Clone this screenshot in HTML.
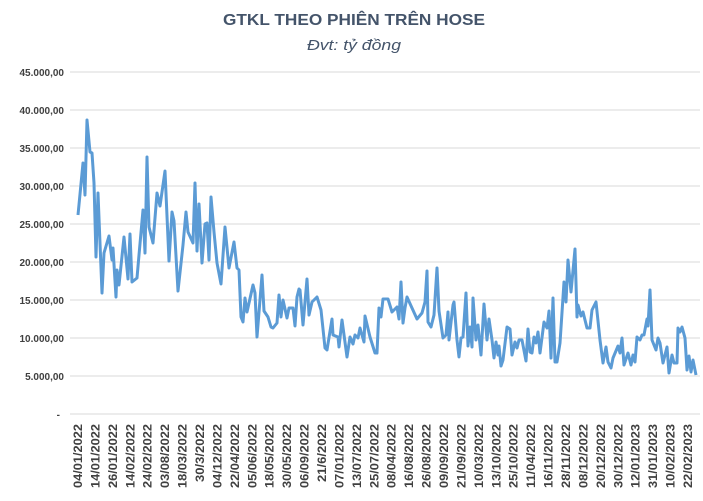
<!DOCTYPE html>
<html><head><meta charset="utf-8"><style>
body{margin:0;background:#fff;}
svg{display:block;font-family:"Liberation Sans",sans-serif;}
</style></head><body>
<svg width="703" height="501" viewBox="0 0 703 501">
<rect width="703" height="501" fill="#fff"/>
<text x="354" y="25" text-anchor="middle" font-size="16" font-weight="bold" fill="#44546a" textLength="262" lengthAdjust="spacingAndGlyphs">GTKL THEO PHIÊN TRÊN HOSE</text>
<text x="354" y="50" text-anchor="middle" font-size="15" font-style="italic" fill="#44546a" textLength="94" lengthAdjust="spacingAndGlyphs">Đvt: tỷ đồng</text>
<g stroke="#d9d9d9" stroke-width="1">
<line x1="70" x2="700" y1="72" y2="72"/><line x1="70" x2="700" y1="110" y2="110"/><line x1="70" x2="700" y1="148" y2="148"/><line x1="70" x2="700" y1="186" y2="186"/><line x1="70" x2="700" y1="224" y2="224"/><line x1="70" x2="700" y1="262" y2="262"/><line x1="70" x2="700" y1="300" y2="300"/><line x1="70" x2="700" y1="338" y2="338"/><line x1="70" x2="700" y1="376" y2="376"/><line x1="70" x2="700" y1="414" y2="414"/>
</g>
<g font-size="10" font-weight="bold" fill="#404040" text-anchor="end">
<text x="64" y="76">45.000,00</text><text x="64" y="114">40.000,00</text><text x="64" y="152">35.000,00</text><text x="64" y="190">30.000,00</text><text x="64" y="228">25.000,00</text><text x="64" y="266">20.000,00</text><text x="64" y="304">15.000,00</text><text x="64" y="342">10.000,00</text><text x="64" y="380">5.000,00</text><text x="60" y="418">-</text>
</g>
<polyline fill="none" stroke="#5b9bd5" stroke-width="3" stroke-linejoin="round" points="78,215 83,163 85,195 87,120 90,152 92,153 94,183 96,257 98,193 102,293 104,253 109,236 112,260 113,248 116,297 117,270 119,285 124,237 128,279 130,234 132,282 137,278 139,255 143,210 145,253 147,157 149,227 153,243 157,193 160,206 165,171 169,261 172,212 174,221 178,291 183,245 186,212 188,232 193,243 195,183 197,251 199,204 202,263 205,224 207,223 209,260 211,197 214,232 217,263 221,284 225,227 229,268 234,242 237,268 239,270 241,317 243,322 245,298 247,312 253,285 255,293 257,337 262,275 264,311 268,317 271,327 273,328 277,323 279,295 281,317 283,300 287,318 289,308 293,308 295,326 297,297 299,289 300,290 303,325 307,279 309,315 312,302 317,297 321,310 325,348 327,350 332,319 333,335 338,337 339,347 342,320 347,357 350,337 353,344 355,335 358,338 360,328 364,342 365,316 370,337 375,353 377,353 379,308 381,317 383,299 388,299 392,312 397,307 399,319 401,282 403,323 405,308 407,297 412,308 417,319 422,313 425,302 427,271 428,322 431,327 434,315 437,268 439,311 443,338 446,335 448,312 449,340 453,305 454,302 457,340 459,357 461,338 463,337 466,293 468,346 470,327 472,347 473,298 476,340 478,325 481,355 484,304 487,340 489,319 492,340 494,358 496,342 498,355 499,346 501,366 503,360 507,327 510,329 512,355 515,342 517,348 519,340 522,340 526,361 528,329 530,352 532,353 534,337 536,343 538,332 540,353 544,322 547,328 549,311 551,358 553,298 555,362 557,362 560,343 564,282 566,302 568,260 571,292 575,249 577,317 578,305 581,316 583,312 587,328 590,328 592,310 596,302 600,340 603,363 606,347 608,362 611,368 613,358 618,346 620,353 622,338 624,365 628,353 631,365 633,355 635,362 637,337 640,340 642,335 644,335 647,319 648,326 650,290 652,340 656,350 658,338 660,343 663,363 667,347 669,373 672,355 674,363 677,363 678,328 680,332 682,327 685,338 687,370 689,356 691,372 693,360 696,375"/>
<g font-size="12" font-weight="bold" fill="#404040" text-anchor="end">
<text transform="translate(82,424) rotate(-90)" textLength="64" lengthAdjust="spacingAndGlyphs">04/01/2022</text>
<text transform="translate(99.4,424) rotate(-90)" textLength="64" lengthAdjust="spacingAndGlyphs">14/01/2022</text>
<text transform="translate(116.9,424) rotate(-90)" textLength="64" lengthAdjust="spacingAndGlyphs">26/01/2022</text>
<text transform="translate(134.3,424) rotate(-90)" textLength="64" lengthAdjust="spacingAndGlyphs">14/02/2022</text>
<text transform="translate(151.7,424) rotate(-90)" textLength="64" lengthAdjust="spacingAndGlyphs">24/02/2022</text>
<text transform="translate(169.2,424) rotate(-90)" textLength="64" lengthAdjust="spacingAndGlyphs">03/08/2022</text>
<text transform="translate(186.6,424) rotate(-90)" textLength="64" lengthAdjust="spacingAndGlyphs">18/03/2022</text>
<text transform="translate(204,424) rotate(-90)" textLength="58" lengthAdjust="spacingAndGlyphs">30/3/2022</text>
<text transform="translate(221.4,424) rotate(-90)" textLength="64" lengthAdjust="spacingAndGlyphs">04/12/2022</text>
<text transform="translate(238.9,424) rotate(-90)" textLength="64" lengthAdjust="spacingAndGlyphs">22/04/2022</text>
<text transform="translate(256.3,424) rotate(-90)" textLength="64" lengthAdjust="spacingAndGlyphs">05/06/2022</text>
<text transform="translate(273.7,424) rotate(-90)" textLength="64" lengthAdjust="spacingAndGlyphs">18/05/2022</text>
<text transform="translate(291.2,424) rotate(-90)" textLength="64" lengthAdjust="spacingAndGlyphs">30/05/2022</text>
<text transform="translate(308.6,424) rotate(-90)" textLength="64" lengthAdjust="spacingAndGlyphs">06/09/2022</text>
<text transform="translate(326,424) rotate(-90)" textLength="58" lengthAdjust="spacingAndGlyphs">21/6/2022</text>
<text transform="translate(343.4,424) rotate(-90)" textLength="64" lengthAdjust="spacingAndGlyphs">07/01/2022</text>
<text transform="translate(360.9,424) rotate(-90)" textLength="64" lengthAdjust="spacingAndGlyphs">13/07/2022</text>
<text transform="translate(378.3,424) rotate(-90)" textLength="64" lengthAdjust="spacingAndGlyphs">25/07/2022</text>
<text transform="translate(395.7,424) rotate(-90)" textLength="64" lengthAdjust="spacingAndGlyphs">08/04/2022</text>
<text transform="translate(413.2,424) rotate(-90)" textLength="64" lengthAdjust="spacingAndGlyphs">16/08/2022</text>
<text transform="translate(430.6,424) rotate(-90)" textLength="64" lengthAdjust="spacingAndGlyphs">26/08/2022</text>
<text transform="translate(448,424) rotate(-90)" textLength="64" lengthAdjust="spacingAndGlyphs">09/09/2022</text>
<text transform="translate(465.4,424) rotate(-90)" textLength="64" lengthAdjust="spacingAndGlyphs">21/09/2022</text>
<text transform="translate(482.9,424) rotate(-90)" textLength="64" lengthAdjust="spacingAndGlyphs">10/03/2022</text>
<text transform="translate(500.3,424) rotate(-90)" textLength="64" lengthAdjust="spacingAndGlyphs">13/10/2022</text>
<text transform="translate(517.7,424) rotate(-90)" textLength="64" lengthAdjust="spacingAndGlyphs">25/10/2022</text>
<text transform="translate(535.2,424) rotate(-90)" textLength="64" lengthAdjust="spacingAndGlyphs">11/04/2022</text>
<text transform="translate(552.6,424) rotate(-90)" textLength="64" lengthAdjust="spacingAndGlyphs">16/11/2022</text>
<text transform="translate(570,424) rotate(-90)" textLength="64" lengthAdjust="spacingAndGlyphs">28/11/2022</text>
<text transform="translate(587.4,424) rotate(-90)" textLength="64" lengthAdjust="spacingAndGlyphs">08/12/2022</text>
<text transform="translate(604.9,424) rotate(-90)" textLength="64" lengthAdjust="spacingAndGlyphs">20/12/2022</text>
<text transform="translate(622.3,424) rotate(-90)" textLength="64" lengthAdjust="spacingAndGlyphs">30/12/2022</text>
<text transform="translate(639.7,424) rotate(-90)" textLength="64" lengthAdjust="spacingAndGlyphs">12/01/2023</text>
<text transform="translate(657.2,424) rotate(-90)" textLength="64" lengthAdjust="spacingAndGlyphs">31/01/2023</text>
<text transform="translate(674.6,424) rotate(-90)" textLength="64" lengthAdjust="spacingAndGlyphs">10/02/2023</text>
<text transform="translate(692,424) rotate(-90)" textLength="64" lengthAdjust="spacingAndGlyphs">22/02/2023</text>
</g>
</svg>
</body></html>
